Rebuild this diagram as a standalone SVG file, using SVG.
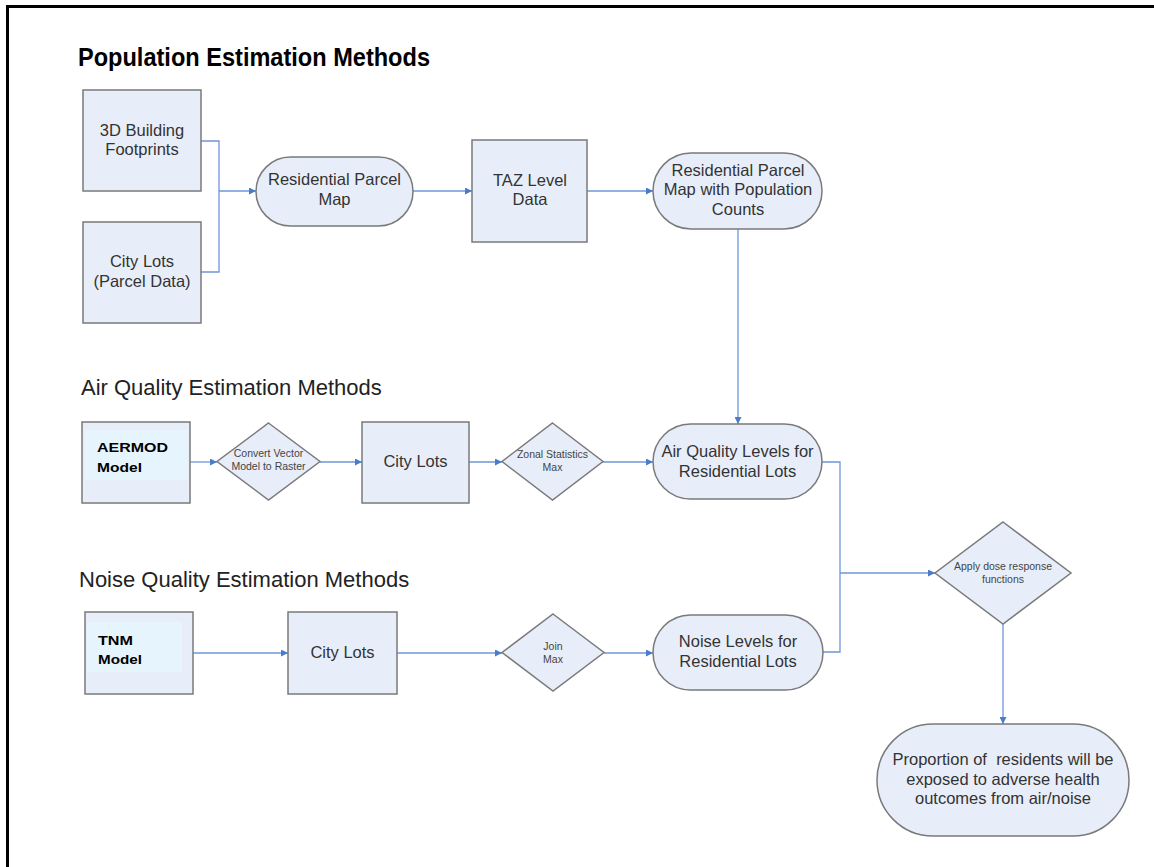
<svg xmlns="http://www.w3.org/2000/svg" width="1154" height="867" viewBox="0 0 1154 867">
  <style>
    .box { fill: #e8eef9; stroke: #7a7a7a; stroke-width: 1.5; }
    .inner { fill: #e6f4fd; stroke: none; }
    .lbl { font-family: "Liberation Sans", Arial, sans-serif; font-size: 16.5px; fill: #333333; text-anchor: middle; }
    .small { font-family: "Liberation Sans", Arial, sans-serif; font-size: 10.5px; fill: #444444; text-anchor: middle; }
    .model { font-family: "Liberation Sans", Arial, sans-serif; font-size: 13px; font-weight: bold; fill: #000000; }
    .head { font-family: "Liberation Sans", Arial, sans-serif; font-size: 22px; fill: #222222; }
    .title { font-family: "Liberation Sans", Arial, sans-serif; font-size: 25px; font-weight: bold; fill: #000000; }
    .conn { fill: none; stroke: #6d97d8; stroke-width: 1.3; }
  </style>
  <defs>
    <marker id="arrow" viewBox="0 0 10 10" refX="10" refY="5" markerWidth="7" markerHeight="7" markerUnits="userSpaceOnUse" orient="auto">
      <path d="M0,0 L10,5 L0,10 z" fill="#4a7cc9"/>
    </marker>
  </defs>

  <rect x="0" y="0" width="1154" height="867" fill="#ffffff"/>
  <!-- page frame: top and left edges -->
  <path d="M7.5,867 L7.5,6.5 L1154,6.5" fill="none" stroke="#000000" stroke-width="3"/>

  <!-- section headings -->
  <text class="title" x="78" y="66" textLength="352" lengthAdjust="spacingAndGlyphs">Population Estimation Methods</text>
  <text class="head" x="81" y="395">Air Quality Estimation Methods</text>
  <text class="head" x="79" y="587">Noise Quality Estimation Methods</text>

  <!-- connectors -->
  <g id="connectors">
    <path class="conn" d="M201,141 H219 V272 H201"/>
    <path class="conn" d="M219,191 H256" marker-end="url(#arrow)"/>
    <path class="conn" d="M413,191 H472" marker-end="url(#arrow)"/>
    <path class="conn" d="M587,191 H653" marker-end="url(#arrow)"/>
    <path class="conn" d="M738,229 V424" marker-end="url(#arrow)"/>
    <path class="conn" d="M190,462 H217" marker-end="url(#arrow)"/>
    <path class="conn" d="M320,462 H362" marker-end="url(#arrow)"/>
    <path class="conn" d="M469,462 H502" marker-end="url(#arrow)"/>
    <path class="conn" d="M603,462 H653" marker-end="url(#arrow)"/>
    <path class="conn" d="M193,653 H288" marker-end="url(#arrow)"/>
    <path class="conn" d="M397,653 H502" marker-end="url(#arrow)"/>
    <path class="conn" d="M604,653 H653" marker-end="url(#arrow)"/>
    <path class="conn" d="M822,462 H840 V652 H823"/>
    <path class="conn" d="M840,573 H935" marker-end="url(#arrow)"/>
    <path class="conn" d="M1003,624 V724" marker-end="url(#arrow)"/>
  </g>

  <!-- population row -->
  <g id="building-footprints">
    <rect class="box" x="83" y="90" width="118" height="101"/>
    <text class="lbl" x="142" y="136">3D Building</text>
    <text class="lbl" x="142" y="155">Footprints</text>
  </g>
  <g id="city-lots-parcel">
    <rect class="box" x="83" y="222" width="118" height="101"/>
    <text class="lbl" x="142" y="267">City Lots</text>
    <text class="lbl" x="142" y="287">(Parcel Data)</text>
  </g>
  <g id="residential-parcel-map">
    <rect class="box" x="256" y="157" width="157" height="69" rx="34.5"/>
    <text class="lbl" x="334.5" y="185">Residential Parcel</text>
    <text class="lbl" x="334.5" y="205">Map</text>
  </g>
  <g id="taz-data">
    <rect class="box" x="472" y="140" width="115" height="102"/>
    <text class="lbl" x="530" y="186">TAZ Level</text>
    <text class="lbl" x="530" y="205">Data</text>
  </g>
  <g id="parcel-population">
    <rect class="box" x="653" y="153" width="169" height="76" rx="38"/>
    <text class="lbl" x="738" y="176">Residential Parcel</text>
    <text class="lbl" x="738" y="195">Map with Population</text>
    <text class="lbl" x="738" y="215">Counts</text>
  </g>

  <!-- air quality row -->
  <g id="aermod">
    <rect class="box" x="82" y="422" width="108" height="81"/>
    <rect class="inner" x="85" y="430" width="103" height="50"/>
    <text class="model" x="97" y="452" textLength="71" lengthAdjust="spacingAndGlyphs">AERMOD</text>
    <text class="model" x="97" y="472" textLength="45" lengthAdjust="spacingAndGlyphs">Model</text>
  </g>
  <g id="convert-raster">
    <path class="box" d="M268.5,423 L320,461.5 L268.5,500 L217,461.5 Z"/>
    <text class="small" x="268.5" y="457">Convert Vector</text>
    <text class="small" x="268.5" y="470">Model to Raster</text>
  </g>
  <g id="city-lots-air">
    <rect class="box" x="362" y="422" width="107" height="81"/>
    <text class="lbl" x="415.5" y="467">City Lots</text>
  </g>
  <g id="zonal-max">
    <path class="box" d="M552.5,423 L603,461.5 L552.5,500 L502,461.5 Z"/>
    <text class="small" x="552.5" y="458">Zonal Statistics</text>
    <text class="small" x="552.5" y="471">Max</text>
  </g>
  <g id="air-levels">
    <rect class="box" x="653" y="424" width="169" height="75" rx="37.5"/>
    <text class="lbl" x="737.5" y="457">Air Quality Levels for</text>
    <text class="lbl" x="737.5" y="477">Residential Lots</text>
  </g>

  <!-- noise row -->
  <g id="tnm">
    <rect class="box" x="85" y="612" width="108" height="82"/>
    <rect class="inner" x="87" y="622" width="95" height="50"/>
    <text class="model" x="98" y="645" textLength="35" lengthAdjust="spacingAndGlyphs">TNM</text>
    <text class="model" x="98" y="664" textLength="44" lengthAdjust="spacingAndGlyphs">Model</text>
  </g>
  <g id="city-lots-noise">
    <rect class="box" x="288" y="612" width="109" height="82"/>
    <text class="lbl" x="342.5" y="658">City Lots</text>
  </g>
  <g id="join-max">
    <path class="box" d="M553,614 L604,652.5 L553,691 L502,652.5 Z"/>
    <text class="small" x="553" y="650">Join</text>
    <text class="small" x="553" y="663">Max</text>
  </g>
  <g id="noise-levels">
    <rect class="box" x="653" y="615" width="170" height="75" rx="37.5"/>
    <text class="lbl" x="738" y="647">Noise Levels for</text>
    <text class="lbl" x="738" y="667">Residential Lots</text>
  </g>

  <!-- combined outcome -->
  <g id="dose-response">
    <path class="box" d="M1003,522 L1071,573 L1003,624 L935,573 Z"/>
    <text class="small" x="1003" y="570">Apply dose response</text>
    <text class="small" x="1003" y="583">functions</text>
  </g>
  <g id="exposed-residents">
    <rect class="box" x="877" y="724" width="252" height="112" rx="56"/>
    <text class="lbl" x="1003" y="765" xml:space="preserve">Proportion of  residents will be</text>
    <text class="lbl" x="1003" y="785">exposed to adverse health</text>
    <text class="lbl" x="1003" y="804">outcomes from air/noise</text>
  </g>
</svg>
